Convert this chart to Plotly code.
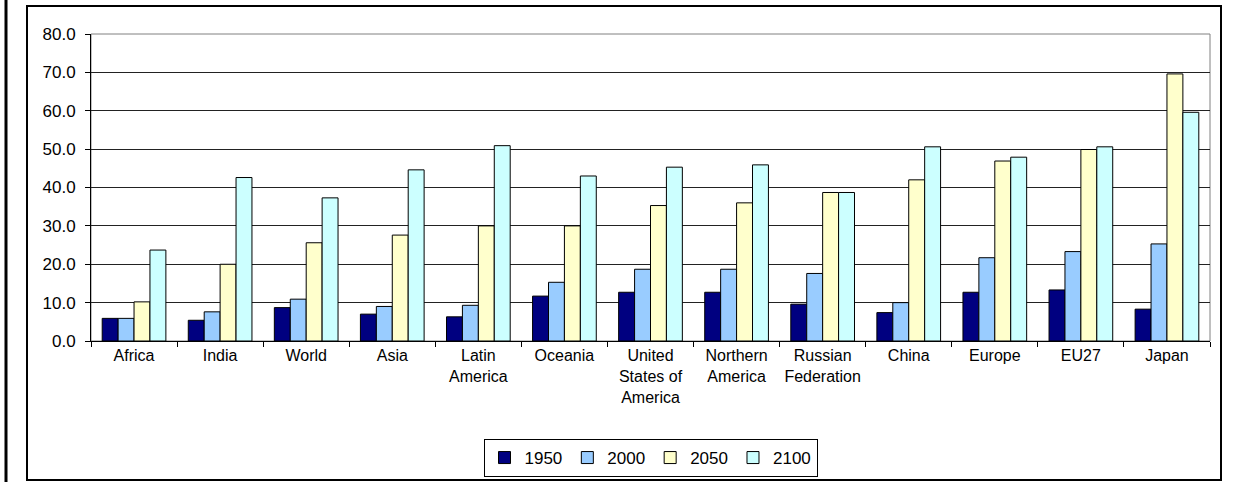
import plotly.graph_objects as go

categories = ["Africa", "India", "World", "Asia", "Latin<br>America", "Oceania",
              "United<br>States of<br>America", "Northern<br>America", "Russian<br>Federation",
              "China", "Europe", "EU27", "Japan"]
years = ["1950", "2000", "2050", "2100"]
v1950 = [5.9, 5.4, 8.7, 7.0, 6.3, 11.7, 12.7, 12.7, 9.6, 7.4, 12.7, 13.3, 8.3]
v2000 = [5.9, 7.6, 10.9, 9.0, 9.3, 15.3, 18.7, 18.7, 17.6, 10.0, 21.7, 23.3, 25.3]
v2050 = [10.2, 20.0, 25.6, 27.6, 30.0, 30.0, 35.3, 36.0, 38.7, 42.0, 46.9, 49.9, 69.6]
v2100 = [23.7, 42.6, 37.3, 44.6, 50.9, 43.0, 45.3, 45.9, 38.7, 50.6, 47.9, 50.6, 59.6]
colors = ["#000080", "#99CCFF", "#FFFFCC", "#CCFFFF"]

W, H = 1242, 483
L, R, T, B = 91, 1210, 34, 341
pw, ph = R - L, B - T

def px(x):
    return (x - L) / pw

def py(y):
    return (B - y) / ph

fig = go.Figure()
for name, vals, c in zip(years, [v1950, v2000, v2050, v2100], colors):
    fig.add_trace(go.Bar(x=categories, y=vals, name=name, marker_color=c,
                         marker_line_color="#000000", marker_line_width=1))

font = "Liberation Sans, Arial, sans-serif"
fig.update_layout(
    width=W, height=H,
    margin=dict(l=L, r=W - R, t=T, b=H - B, pad=0, autoexpand=False),
    paper_bgcolor="white", plot_bgcolor="white",
    barmode="group", bargap=0.26, bargroupgap=0,
    font=dict(family=font, size=16, color="#000000"),
    showlegend=True,
    legend=dict(orientation="h", x=0.5, xanchor="center", y=py(439), yanchor="top",
                bordercolor="#000000", borderwidth=1, font=dict(size=17),
                itemwidth=30, tracegroupgap=0),
    xaxis=dict(showline=True, linecolor="#000000", linewidth=1,
               ticks="outside", tickson="boundaries", ticklen=5, tickcolor="#000000",
               showgrid=False, tickfont=dict(size=16)),
    yaxis=dict(range=[0, 80], dtick=10, tickformat=".1f", showline=True,
               linecolor="#000000", linewidth=1, ticks="outside", ticklen=5,
               tickcolor="#000000", showgrid=True, gridcolor="#222222", gridwidth=1,
               zeroline=False, tickfont=dict(size=17), ticklabelstandoff=6),
)

# plot-area border (gray)
fig.add_shape(type="rect", xref="paper", yref="paper", x0=0, x1=1, y0=0, y1=1,
              line=dict(color="#808080", width=1), layer="below")
# chart border
fig.add_shape(type="rect", xref="paper", yref="paper", x0=px(27), x1=px(1221),
              y0=py(480), y1=py(6), line=dict(color="#000000", width=2))
# left page line
fig.add_shape(type="line", xref="paper", yref="paper", x0=px(6), x1=px(6),
              y0=py(482), y1=py(0), line=dict(color="#000000", width=3))

fig.write_html("out.html", config={"displayModeBar": False},
               post_script="document.body.style.margin='0';document.body.style.overflow='hidden';")
